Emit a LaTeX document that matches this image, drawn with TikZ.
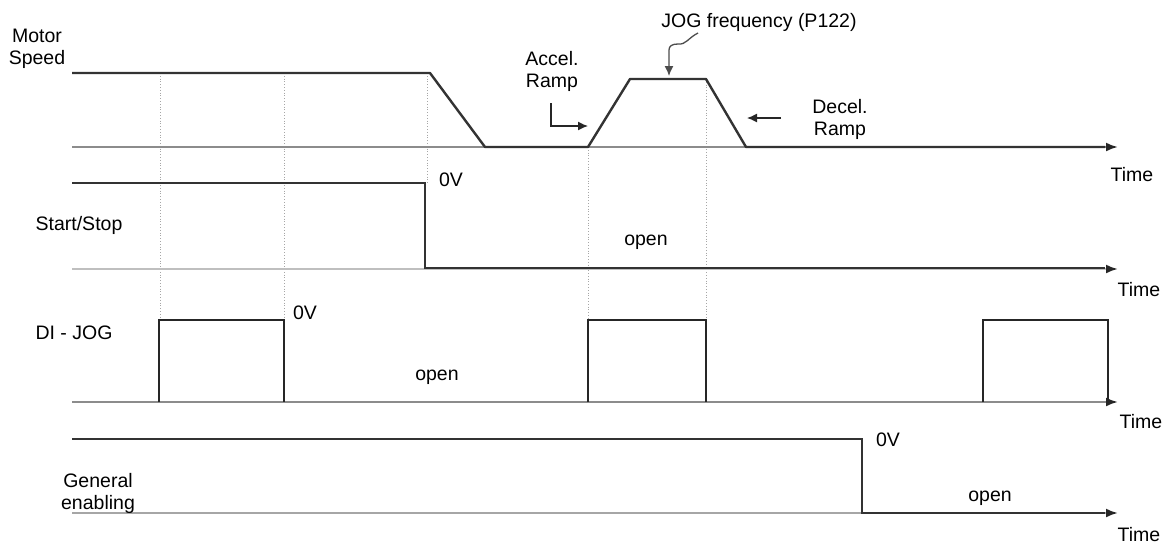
\documentclass[tikz,border=0pt]{standalone}
\usepackage{fontspec}
\setmainfont{Liberation Sans}
\usetikzlibrary{arrows.meta}
\begin{document}
\begin{tikzpicture}[x=1pt,y=-1pt,
  lbl/.style={inner sep=0pt,font=\fontsize{19.5}{22}\selectfont,align=center},
  sig/.style={draw=black!80,line width=2.4pt},
  pulse/.style={draw=black!85,line width=1.8pt},
  base/.style={draw=black!45,line width=2.2pt},
  guide/.style={draw=black!35,line width=0.8pt,dotted},
  axis/.style={-{Latex[length=12pt,width=9pt,color=black!85,fill=black!85]}},
  pointer/.style={draw=black!85,line width=1.3pt,-{Latex[length=10pt,width=9pt]}}]
\useasboundingbox (0,0) rectangle (1171,544);
% guides
\coordinate (g1a) at (160,73); \coordinate (g1b) at (160,320);
\coordinate (g2a) at (284,73); \coordinate (g2b) at (284,320);
\coordinate (g3a) at (427,73); \coordinate (g3b) at (427,183);
\coordinate (g4a) at (588,147); \coordinate (g4b) at (588,320);
\coordinate (g5a) at (706,79); \coordinate (g5b) at (706,320);
\foreach \g in {1,...,5} \draw[guide] (g\g a) -- (g\g b);
% Motor speed
\coordinate (m0) at (72,147); \coordinate (mEnd) at (1118,147);
\draw[base,axis] (m0) -- (mEnd);
\coordinate (ms) at (72,73); \coordinate (m1) at (430,73); \coordinate (m2) at (485,147);
\coordinate (m3) at (588,147); \coordinate (m4) at (630,79); \coordinate (m5) at (706,79);
\coordinate (m6) at (746,147); \coordinate (m7) at (1105,147);
\draw[sig,line join=round] (ms) -- (m1) -- (m2) -- (m3) -- (m4) -- (m5) -- (m6) -- (m7);
\node[lbl] (motor) at (37,49) {Motor\\Speed};
\node[lbl] (t1) at (1132,175) {Time};
% Accel / Decel / JOG
\node[lbl] (accel) at (552,71) {Accel.\\Ramp};
\coordinate (a0) at (551,103); \coordinate (a1) at (551,126); \coordinate (a2) at (588,126);
\draw[pointer] (a0) -- (a1) -- (a2);
\node[lbl] (decel) at (840,119) {Decel.\\Ramp};
\coordinate (d0) at (781,118); \coordinate (d1) at (747,118);
\draw[pointer] (d0) -- (d1);
\node[lbl] (jog) at (759,22) {JOG frequency (P122)};
\coordinate (j0) at (698,33); \coordinate (j1) at (669,50); \coordinate (j2) at (669,76);
\draw[pointer,draw=black!70] (j0) .. controls (688,38) and (686,45) .. (678,44) .. controls (672,44) and (669,46) .. (j1) -- (j2);
% Start/Stop
\coordinate (s0) at (72,269); \coordinate (sEnd) at (1118,269);
\draw[base,draw=black!25,axis] (s0) -- (sEnd);
\coordinate (ss) at (72,183); \coordinate (s1) at (425,183); \coordinate (s2) at (425,268); \coordinate (s3) at (1105,268);
\draw[sig] (ss) -- (s1) -- (s2) -- (s3);
\node[lbl] (start) at (79,225) {Start/Stop};
\node[lbl] (ov1) at (451,180) {0V};
\node[lbl] (open1) at (646,242) {open};
\node[lbl] (t2) at (1139,290) {Time};
% DI-JOG
\coordinate (d0b) at (72,402); \coordinate (dEnd) at (1118,402);
\draw[base,axis] (d0b) -- (dEnd);
\draw[pulse] (159,402) coordinate (p1a) -- (159,320) -- (284,320) -- (284,402);
\draw[pulse] (588,402) coordinate (p2a) -- (588,320) -- (706,320) -- (706,402);
\draw[pulse] (983,402) coordinate (p3a) -- (983,320) -- (1108,320) -- (1108,402);
\node[lbl] (dijog) at (74,333) {DI - JOG};
\node[lbl] (ov2) at (305,313) {0V};
\node[lbl] (open2) at (437,377) {open};
\node[lbl] (t3) at (1141,422) {Time};
% General enabling
\coordinate (e0) at (72,513); \coordinate (eEnd) at (1118,513);
\draw[base,draw=black!35,axis] (e0) -- (eEnd);
\coordinate (es) at (72,439); \coordinate (e1) at (862,439); \coordinate (e2) at (862,513); \coordinate (e3) at (1105,513);
\draw[sig] (es) -- (e1) -- (e2) -- (e3);
\node[lbl] (gen) at (98,493) {General\\enabling};
\node[lbl] (ov3) at (888,440) {0V};
\node[lbl] (open3) at (990,498) {open};
\node[lbl] (t4) at (1139,535) {Time};
\end{tikzpicture}
\end{document}
